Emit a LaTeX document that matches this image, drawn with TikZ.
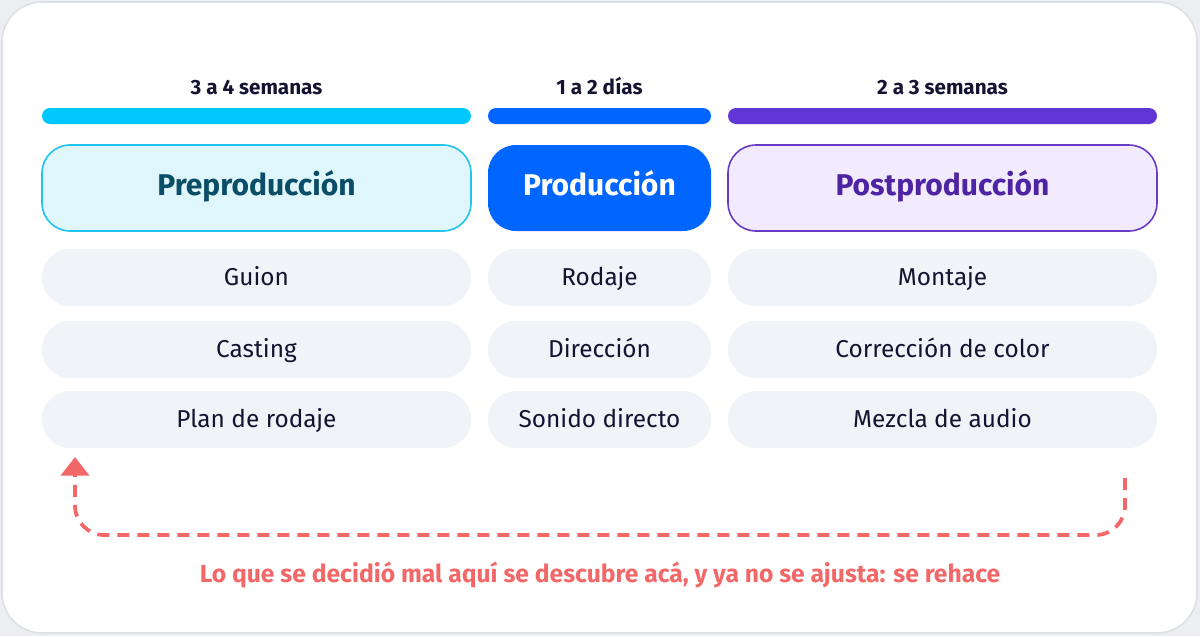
\documentclass[tikz,border=0pt]{standalone}
\usepackage{fontspec}
\setmainfont{Fira Sans}
\usetikzlibrary{arrows.meta}
\definecolor{pagebg}{HTML}{ECEEF1}
\definecolor{frameln}{HTML}{DDE0E4}
\definecolor{cyanbar}{HTML}{00C8FF}
\definecolor{prefill}{HTML}{E0F6FD}
\definecolor{preline}{HTML}{21C4EE}
\definecolor{pretext}{HTML}{0A4D66}
\definecolor{prodblue}{HTML}{0066FF}
\definecolor{purplebar}{HTML}{6236D6}
\definecolor{postfill}{HTML}{F1EBFD}
\definecolor{postline}{HTML}{6A3CC6}
\definecolor{posttext}{HTML}{4F24A3}
\definecolor{pillfill}{HTML}{F0F3F7}
\definecolor{darktext}{HTML}{141432}
\definecolor{coral}{HTML}{F26868}
\begin{document}
\begin{tikzpicture}[x=0.75pt,y=-0.75pt,
  durlabel/.style={font=\bfseries\fontsize{15.5}{18}\selectfont, text=darktext, inner sep=0pt, text height=1.2em, text depth=0.08em},
  barbox/.style={rounded corners=6pt, minimum height=12pt, inner sep=0pt},
  headbox/.style={rounded corners=21pt, minimum height=64.5pt, inner sep=0pt, line width=1.2pt, font=\bfseries\fontsize{22.5}{26}\selectfont, text height=1.2em, text depth=0.08em},
  pill/.style={rounded corners=21pt, minimum height=42.75pt, inner sep=0pt, fill=pillfill, text=darktext, font=\fontsize{18.3}{22}\selectfont, text height=1.25em, text depth=0.08em},
  wideW/.style={minimum width=321.75pt},
  narrowW/.style={minimum width=167.25pt},
  redo/.style={draw=coral, line width=2.8pt, dash pattern=on 9pt off 6pt, rounded corners=22pt, -{Triangle[width=21pt,length=14pt]}}
]
\fill[pagebg] (0,0) rectangle (1200,636);
\useasboundingbox (0,0) rectangle (1200,636);
\draw[fill=white, draw=frameln, line width=1.2pt, rounded corners=30pt] (2,2) rectangle (1197,633);

% durations
\node[durlabel] (d1) at (256.5,87) {3 a 4 semanas};
\node[durlabel] (d2) at (599.5,87) {1 a 2 días};
\node[durlabel] (d3) at (942.5,87) {2 a 3 semanas};

% bars
\node[barbox, wideW, fill=cyanbar] (b1) at (256.5,116) {};
\node[barbox, narrowW, fill=prodblue] (b2) at (599.5,116) {};
\node[barbox, wideW, fill=purplebar] (b3) at (942.5,116) {};

% headers
\node[headbox, wideW, fill=prefill, draw=preline, text=pretext] (h1) at (256.5,188) {Preproducción};
\node[headbox, narrowW, fill=prodblue, text=white] (h2) at (599.5,188) {Producción};
\node[headbox, wideW, fill=postfill, draw=postline, text=posttext] (h3) at (942.5,188) {Postproducción};

% items
\node[pill, wideW] (p11) at (256.5,277.5) {Guion};
\node[pill, wideW] (p12) at (256.5,349.5) {Casting};
\node[pill, wideW] (p13) at (256.5,419.5) {Plan de rodaje};
\node[pill, narrowW] (p21) at (599.5,277.5) {Rodaje};
\node[pill, narrowW] (p22) at (599.5,349.5) {Dirección};
\node[pill, narrowW] (p23) at (599.5,419.5) {Sonido directo};
\node[pill, wideW] (p31) at (942.5,277.5) {Montaje};
\node[pill, wideW] (p32) at (942.5,349.5) {Corrección de color};
\node[pill, wideW] (p33) at (942.5,419.5) {Mezcla de audio};

% feedback arrow
\coordinate (fs) at (1125,478);
\coordinate (fe) at (75,457);
\draw[redo] (fs) -- (fs |- 0,535) -- (fe |- 0,535) -- (fe);

\node[font=\fontsize{18.5}{22}\selectfont\bfseries, text=coral, inner sep=0pt] (cap) at (600,575) {Lo que se decidió mal aquí se descubre acá, y ya no se ajusta: se rehace};
\end{tikzpicture}
\end{document}
